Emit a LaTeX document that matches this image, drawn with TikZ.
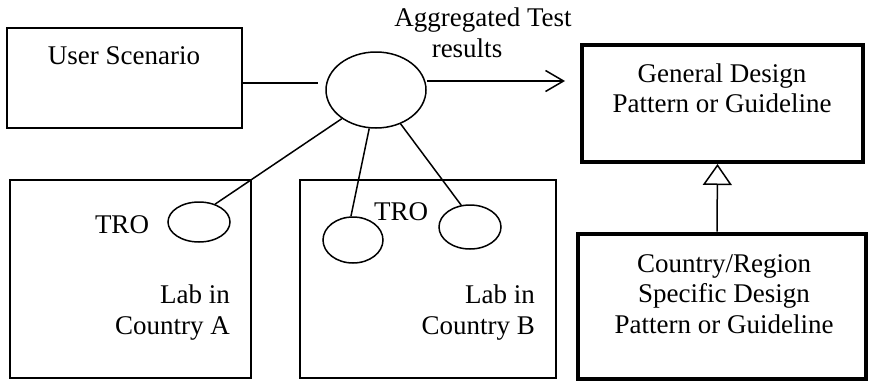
\documentclass[tikz,border=0pt]{standalone}
\usepackage{fontspec}
\setmainfont{Liberation Serif}
\usetikzlibrary{arrows.meta,shapes.geometric}
\begin{document}
\begin{tikzpicture}[x=1pt,y=-1pt,
  thinbox/.style={draw, line width=1.5pt, inner sep=0pt, rectangle},
  thickbox/.style={draw, line width=4pt, inner sep=0pt, rectangle},
  oval/.style={draw, line width=1.5pt, ellipse, inner sep=0pt},
  lbl/.style={font=\fontsize{27}{31}\selectfont, inner sep=0pt, anchor=base},
  rlbl/.style={lbl, anchor=base east},
  conn/.style={line width=1.5pt}]
\useasboundingbox (0,0) rectangle (869,380);
% boxes
\node[thinbox, minimum width=235pt, minimum height=100pt] (us) at (124.5,78) {};
\node[thickbox, minimum width=281pt, minimum height=117pt] (gd) at (722.5,103.5) {};
\node[thickbox, minimum width=288pt, minimum height=145pt] (cr) at (722,306) {};
\node[thinbox, minimum width=241pt, minimum height=198pt] (la) at (130.5,279) {};
\node[thinbox, minimum width=256pt, minimum height=198pt] (lb) at (428,279) {};
% ellipses
\node[oval, minimum width=100pt, minimum height=76pt] (ce) at (376,90) {};
\node[oval, minimum width=62pt, minimum height=40pt] (ta) at (199,222) {};
\node[oval, minimum width=60pt, minimum height=46pt] (tb1) at (353,240) {};
\node[oval, minimum width=62pt, minimum height=44pt] (tb2) at (470,227) {};
% texts
\node[lbl] (t-us) at (124,64) {User Scenario};
\node[lbl] (t-ag1) at (483,27) {Aggregated Test};
\node[lbl] (t-ag2) at (467,57) {results};
\node[lbl] (t-gd1) at (722,82) {General Design};
\node[lbl] (t-gd2) at (722,112) {Pattern or Guideline};
\node[lbl] (t-cr1) at (724,272) {Country/Region};
\node[lbl] (t-cr2) at (724,302) {Specific Design};
\node[lbl] (t-cr3) at (724,333) {Pattern or Guideline};
\node[lbl] (t-tra) at (122,233) {TRO};
\node[lbl] (t-trb) at (401,220) {TRO};
\node[rlbl] (t-la1) at (230,303) {Lab in};
\node[rlbl] (t-la2) at (230,334) {Country A};
\node[rlbl] (t-lb1) at (535,303) {Lab in};
\node[rlbl] (t-lb2) at (535,334) {Country B};
% connectors
\coordinate (j) at (318,83);
\coordinate (ae) at (565,81);
\draw[conn] (us.east |- j) -- (j);
\draw[conn, -{Straight Barb[length=18pt, width=21pt, line width=1.5pt]}] (ce.east |- ae) -- (ae);
\draw[conn] (ce.220) -- (ta.48);
\draw[conn] (ce.260) -- (tb1.95);
\draw[conn] (ce.306) -- (tb2.112);
\draw[conn, -{Triangle[open, length=21pt, width=29pt, line width=1.5pt]}] ([xshift=-5pt]cr.north) -- ([xshift=-5pt]gd.south);
\end{tikzpicture}
\end{document}
